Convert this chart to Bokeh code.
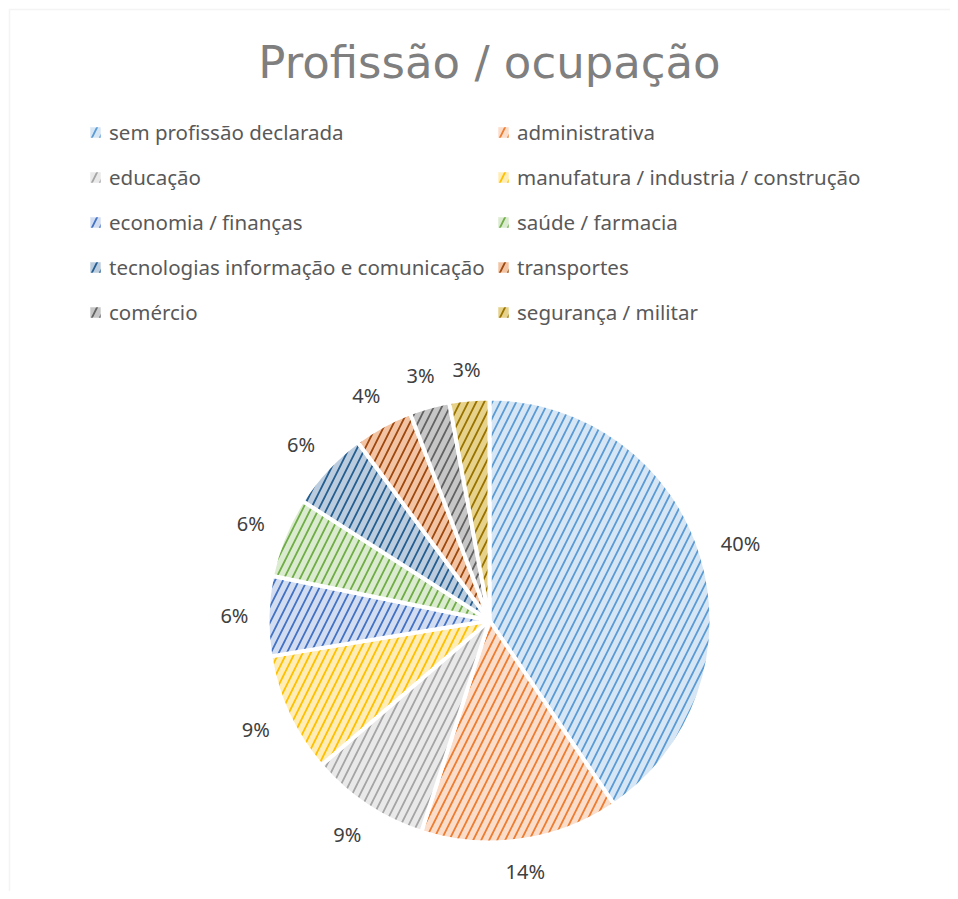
import math
from bokeh.plotting import figure
from bokeh.models import ColumnDataSource, Range1d, Label, BoxAnnotation
from bokeh.core.properties import value
from bokeh.embed import file_html
from bokeh.resources import INLINE

# ---- data ----
categories = [
    "sem profissão declarada", "administrativa", "educação",
    "manufatura / industria / construção", "economia / finanças",
    "saúde / farmacia", "tecnologias informação e comunicação",
    "transportes", "comércio", "segurança / militar",
]
# slice shares (percent)
share = [40.4, 14.4, 8.7, 8.7, 5.8, 5.8, 5.8, 4.3, 2.9, 2.9]
# data labels as printed on the chart
pct_labels = ["40%", "14%", "9%", "9%", "6%", "6%", "6%", "4%", "3%", "3%"]
stripe_colors = ["#5B9BD5", "#ED7D31", "#A5A5A5", "#FFC000", "#4472C4",
                 "#70AD47", "#255E91", "#9E480E", "#636363", "#997300"]
back_colors = ["#D6E6F5", "#FBDDCB", "#E9E9E9", "#FFEDB8", "#D3DDF1",
               "#DAEBCF", "#BACCDD", "#F3C4A4", "#C6C6C6", "#E6D28A"]
title_text = "Profissão / ocupação"

# ---- geometry (data units == pixels) ----
W, H = 950, 891
cx, cy, r = 489, 271, 222
gap = 19

total = sum(share)
starts, ends, lx, ly = [], [], [], []
cum = 0.0
for v, t in zip(share, pct_labels):
    a0 = cum / total * 2 * math.pi
    cum += v
    a1 = cum / total * 2 * math.pi
    starts.append(math.pi / 2 - a0)
    ends.append(math.pi / 2 - a1)
    mid = (a0 + a1) / 2
    s, c = math.sin(mid), math.cos(mid)
    half_w = (11.4 * (len(t) - 1) + 16.4) / 2
    dist = r + gap + abs(s) * half_w + abs(c) * 10
    lx.append(cx + dist * s)
    ly.append(cy + dist * c)

src = ColumnDataSource(dict(cat=categories, start=starts, end=ends,
                            fill=back_colors, hatch=stripe_colors))
lab_src = ColumnDataSource(dict(x=lx, y=ly, t=pct_labels))

p = figure(width=W, height=H, output_backend="svg", toolbar_location=None,
           x_range=Range1d(0, W), y_range=Range1d(0, H),
           x_axis_location=None, y_axis_location=None, min_border=0)
p.grid.visible = False
p.outline_line_color = None
p.background_fill_color = "white"

p.add_layout(BoxAnnotation(left=9, right=3000, bottom=-3000, top=H - 9,
                           fill_alpha=0, line_color="#D9D9D9", line_width=1.5))

p.wedge(x=cx, y=cy, radius=r, start_angle="start", end_angle="end",
        direction="clock", source=src, fill_color="fill",
        hatch_pattern="/", hatch_color="hatch", hatch_scale=16, hatch_weight=1.8,
        line_color="white", line_width=4, legend_field="cat")

p.text(x="x", y="y", text="t", source=lab_src, text_align="center",
       text_baseline="middle", text_font=value("Noto Sans"),
       text_font_size="20px", text_color="#404040")

p.add_layout(Label(x=cx, y=H - 62, text=title_text, text_align="center",
                   text_baseline="middle", text_font="DejaVu Sans",
                   text_font_size="45px", text_color="#7F7F7F"))

leg = p.legend[0]
leg.orientation = "horizontal"
leg.ncols = 2
leg.location = (86, 559)
leg.padding = 0
leg.margin = 0
leg.border_line_color = None
leg.background_fill_alpha = 0
leg.label_text_font = "Noto Sans"
leg.label_text_font_size = "20.5px"
leg.label_text_color = "#595959"
leg.glyph_width = 18
leg.glyph_height = 18
leg.label_standoff = 5
leg.label_height = 40
leg.label_width = 380
leg.spacing = 5

open("out.html", "w").write(file_html(p, INLINE))
